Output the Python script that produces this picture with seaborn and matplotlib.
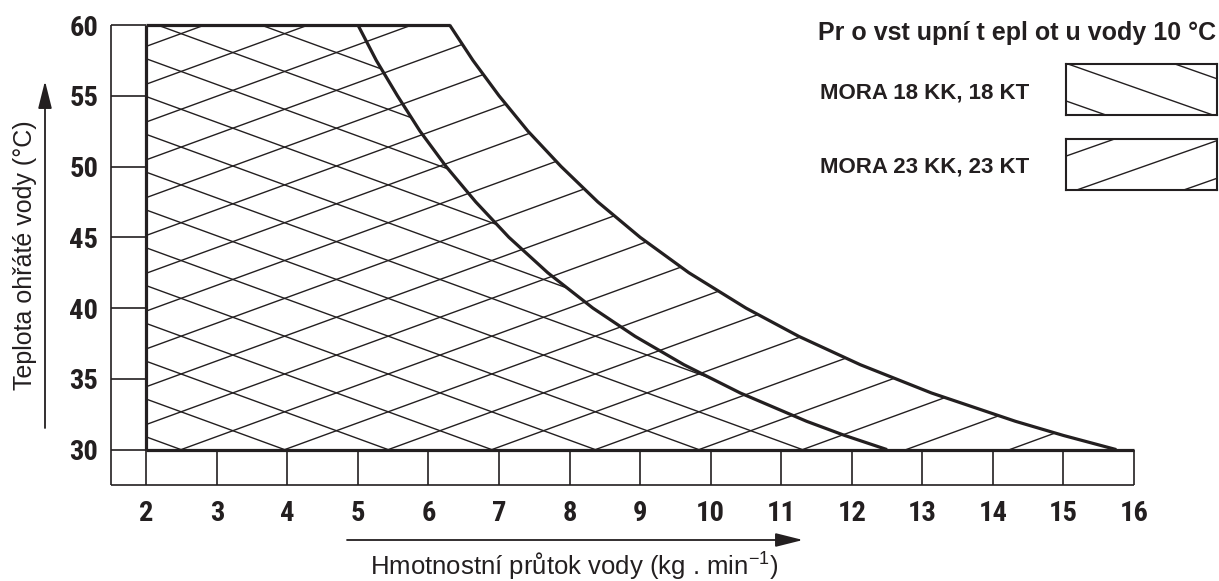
import numpy as np
import pandas as pd
import matplotlib
matplotlib.use("Agg")
import matplotlib.pyplot as plt
import seaborn as sns
from matplotlib.patches import Polygon
from matplotlib.collections import LineCollection

# ---------------- data ----------------
temp_c = [60, 57.5, 55, 52.5, 50, 47.5, 45, 42.5, 40, 38, 36, 34, 32, 31, 30]
flow_18 = [5.00, 5.26, 5.56, 5.88, 6.25, 6.67, 7.14, 7.69, 8.33, 8.93, 9.62, 10.42, 11.36, 11.90, 12.50]
flow_23 = [6.30, 6.63, 7.00, 7.41, 7.88, 8.40, 9.00, 9.69, 10.50, 11.25, 12.12, 13.13, 14.32, 15.00, 15.75]
x_ticks = list(range(2, 17))
y_ticks = [30, 35, 40, 45, 50, 55, 60]
series_labels = ["MORA 18 KK, 18 KT", "MORA 23 KK, 23 KT"]
title_text = "Pr o vst upní t epl ot u vody 10 °C"
x_label = "Hmotnostní průtok vody (kg . min$^{\\mathregular{-1}}$)"
y_label = "Teplota ohřáté vody (°C)"

# ---------------- style ----------------
INK = "#231f20"
sns.set_theme(style="white")
plt.rcParams["font.family"] = ["Liberation Sans", "DejaVu Sans"]
plt.rcParams["mathtext.fontset"] = "custom"
plt.rcParams["mathtext.rm"] = "Liberation Sans"
plt.rcParams["mathtext.default"] = "regular"
NARROW = ["Roboto Condensed", "Archivo Narrow", "Liberation Sans", "DejaVu Sans"]

THICK = 2.3
THIN = 1.2
HATCH_LW = 1.0
HATCH_X0, HATCH_DX, HATCH_SLOPE = 2.493, 1.468, 1.82

X_LO, X_HI = 1.5, 16
T_LO, T_HI = 27.5, 60
T_BASE = 30
X_BASE = 2

fig = plt.figure(figsize=(12.19, 5.81), dpi=100)
fig.patch.set_facecolor("white")
ax = fig.add_axes([111 / 1219, 1 - 485 / 581, (1134 - 111) / 1219, (485 - 25) / 581])
ax.set_xlim(X_LO, X_HI)
ax.set_ylim(T_LO, T_HI)
for s in ax.spines.values():
    s.set_visible(False)
ax.set_facecolor("white")

df = pd.DataFrame({
    "temp": temp_c * 2,
    "flow": flow_18 + flow_23,
    "model": [series_labels[0]] * len(temp_c) + [series_labels[1]] * len(temp_c),
})

# ---------------- hatch regions ----------------
def region_patch(flow):
    verts = [(X_BASE, T_BASE), (X_BASE, temp_c[0])] + list(zip(flow, temp_c))
    p = Polygon(verts, closed=True, facecolor="none", edgecolor="none")
    ax.add_patch(p)
    return p

p18 = region_patch(flow_18)
p23 = region_patch(flow_23)
span = (T_HI - T_BASE) / HATCH_SLOPE
ks = range(-15, 16)
seg_back = [[(HATCH_X0 + HATCH_DX * k, T_BASE), (HATCH_X0 + HATCH_DX * k - span, T_HI)] for k in ks]
seg_fwd = [[(HATCH_X0 + HATCH_DX * k, T_BASE), (HATCH_X0 + HATCH_DX * k + span, T_HI)] for k in ks]
lc1 = LineCollection(seg_back, colors=INK, linewidths=HATCH_LW)
lc2 = LineCollection(seg_fwd, colors=INK, linewidths=HATCH_LW)
ax.add_collection(lc1)
ax.add_collection(lc2)
lc1.set_clip_path(p18)
lc2.set_clip_path(p23)

# ---------------- scale bands ----------------
ax.hlines(y_ticks, X_LO, X_BASE, colors=INK, lw=THIN, clip_on=False)
ax.vlines(x_ticks, T_LO, T_BASE, colors=INK, lw=THIN, clip_on=False)
ax.hlines(T_LO, X_LO, X_HI, colors=INK, lw=THIN, clip_on=False)
ax.vlines(X_LO, T_LO, T_HI, colors=INK, lw=THIN, clip_on=False)

# ---------------- thick outlines ----------------
ax.vlines(X_BASE, T_BASE, T_HI, colors=INK, lw=THICK, clip_on=False)
ax.hlines(T_BASE, X_BASE, X_HI, colors=INK, lw=THICK, clip_on=False)
ax.hlines(T_HI, X_BASE, flow_23[0], colors=INK, lw=THICK, clip_on=False)
sns.lineplot(data=df, x="flow", y="temp", units="model", estimator=None, sort=False,
             color=INK, lw=THICK, ax=ax, legend=False)
for ln in ax.lines:
    ln.set_clip_on(False)
    ln.set_solid_capstyle("butt")

# ---------------- ticks & labels ----------------
ax.set_xticks(x_ticks)
ax.set_xticklabels([str(v) for v in x_ticks])
ax.set_yticks(y_ticks)
ax.set_yticklabels([str(v) for v in y_ticks])
ax.tick_params(axis="both", length=0)
ax.tick_params(axis="x", pad=11)
ax.tick_params(axis="y", pad=9)
for lab in ax.get_xticklabels() + ax.get_yticklabels():
    lab.set_fontfamily(NARROW)
    lab.set_fontweight("bold")
    lab.set_fontsize(20.5)
    lab.set_color(INK)
ax.set_xlabel("")
ax.set_ylabel("")

fig.text(574 / 1219, 1 - 567 / 581, x_label, ha="center", va="center", fontsize=18.5, color=INK)
fig.text(25 / 1219, 1 - 255 / 581, y_label, ha="center", va="center", rotation=90,
         fontsize=18, color=INK)

arrow_kw = dict(arrowstyle="-|>,head_length=1.2,head_width=0.3", color=INK, lw=1.3,
                shrinkA=0, shrinkB=0, mutation_scale=14)
ax.annotate("", xy=(803 / 1219, 1 - 540 / 581), xytext=(347 / 1219, 1 - 540 / 581),
            xycoords="figure fraction", textcoords="figure fraction", arrowprops=arrow_kw)
ax.annotate("", xy=(45 / 1219, 1 - 81 / 581), xytext=(45 / 1219, 1 - 428 / 581),
            xycoords="figure fraction", textcoords="figure fraction", arrowprops=arrow_kw)

# ---------------- legend ----------------
fig.text(1216 / 1219, 1 - 33 / 581, title_text, ha="right", va="center", fontsize=18,
         fontweight="bold", color=INK)

BOX_W, BOX_H, LEG_DX, LEG_SLOPE = 151, 51, 107, 0.352

def legend_box(top_px, direction, label, phase):
    lax = fig.add_axes([1066 / 1219, 1 - (top_px + BOX_H) / 581, BOX_W / 1219, BOX_H / 581])
    lax.set_xlim(0, BOX_W)
    lax.set_ylim(0, BOX_H)
    lax.set_xticks([])
    lax.set_yticks([])
    lax.set_facecolor("white")
    for s in lax.spines.values():
        s.set_linewidth(1.5)
        s.set_color(INK)
        s.set_visible(True)
    run = BOX_H / LEG_SLOPE
    segs = []
    for k in range(-3, 4):
        xs = phase + LEG_DX * k
        if direction == "down":
            segs.append([(xs, BOX_H), (xs + run, 0)])
        else:
            segs.append([(xs, 0), (xs + run, BOX_H)])
    lax.add_collection(LineCollection(segs, colors=INK, linewidths=HATCH_LW))
    fig.text(820 / 1219, 1 - (top_px + BOX_H / 2 + 3) / 581, label, ha="left", va="center",
             fontsize=16, fontweight="bold", color=INK)

legend_box(64, "down", series_labels[0], 2)
legend_box(139, "up", series_labels[1], 10.7)

fig.savefig("out.png", dpi=100, facecolor="white")
